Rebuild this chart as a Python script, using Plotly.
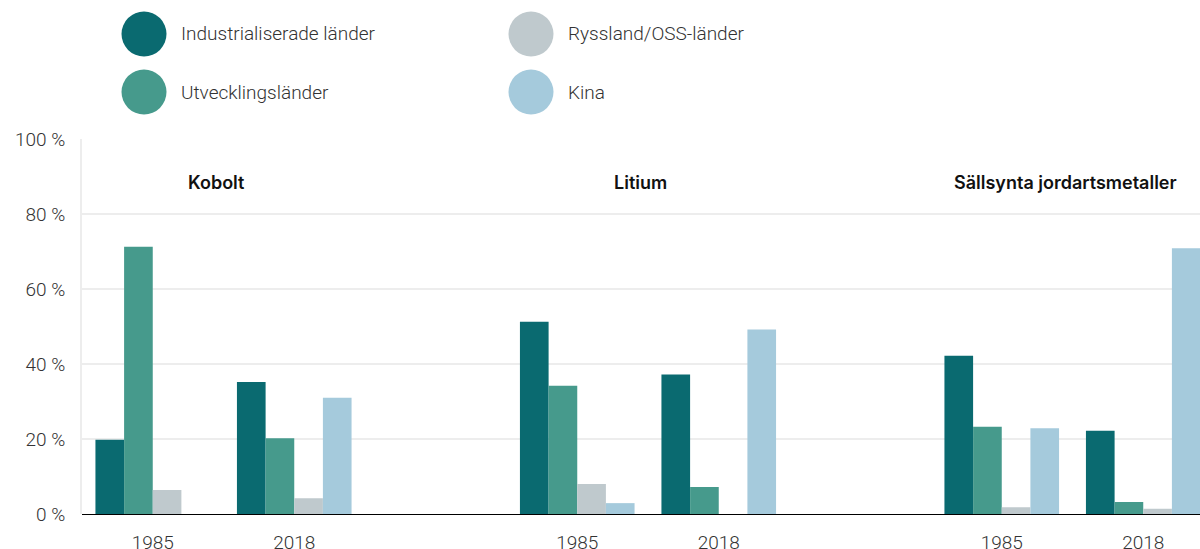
import plotly.graph_objects as go

metals = ["Kobolt", "Litium", "Sällsynta jordartsmetaller"]
years = ["1985", "2018"]
series_names = ["Industrialiserade länder", "Utvecklingsländer", "Ryssland/OSS-länder", "Kina"]
series_colors = ["#0a6a70", "#469a8c", "#bfc9cd", "#a5cadc"]
# values ordered: Kobolt 1985, Kobolt 2018, Litium 1985, Litium 2018, SJM 1985, SJM 2018
industrialiserade = [19.8, 35.2, 51.3, 37.2, 42.2, 22.2]
utveckling = [71.3, 20.2, 34.2, 7.2, 23.3, 3.2]
ryssland = [6.4, 4.2, 8.0, 0.0, 1.8, 1.4]
kina = [0.0, 31.0, 2.9, 49.2, 22.9, 70.9]
series_values = [industrialiserade, utveckling, ryssland, kina]
y_ticks = [0, 20, 40, 60, 80, 100]
y_tick_labels = [f"{v} %" for v in y_ticks]

W, H = 1200, 549
ML, MR, MT, MB = 82, 0, 139, 35
PW, PH = W - ML - MR, H - MT - MB

x_pos = [m * 3 + y for m in range(len(metals)) for y in range(len(years))]
x_text = [years[y] for m in range(len(metals)) for y in range(len(years))]

fig = go.Figure()
for name, color, vals in zip(series_names, series_colors, series_values):
    fig.add_trace(go.Bar(x=x_pos, y=vals, name=name, marker=dict(color=color, line=dict(width=0)),
                         showlegend=False, hoverinfo="skip"))

def px_x(p):
    return (p - ML) / PW

def px_y(p):
    return (H - MB - p) / PH

shapes = []
annotations = []
legend_pos = [(144, 34), (144, 92), (531, 34), (531, 92)]
for (cx, cy), name, color in zip(legend_pos, series_names, series_colors):
    r = 22.5
    shapes.append(dict(type="circle", xref="paper", yref="paper",
                       x0=px_x(cx - r), x1=px_x(cx + r), y0=px_y(cy + r), y1=px_y(cy - r),
                       fillcolor=color, line=dict(width=0)))
    annotations.append(dict(xref="paper", yref="paper", x=px_x(cx + 35), y=px_y(cy),
                            xanchor="left", yanchor="middle", showarrow=False, text=name,
                            font=dict(family="Roboto", size=19, color="#333333", weight=300)))

for i, m in enumerate(metals):
    annotations.append(dict(x=i * 3 + 0.45, y=88.5, xref="x", yref="y", text=m, showarrow=False,
                            xanchor="center", yanchor="middle",
                            font=dict(family="Inter", size=18, color="#111111", weight=600)))

tick_font = dict(family="Roboto", size=19, color="#333333", weight=300)

fig.update_layout(
    width=W, height=H,
    margin=dict(l=ML, r=MR, t=MT, b=MB, pad=0, autoexpand=False),
    plot_bgcolor="white", paper_bgcolor="white",
    barmode="group", bargap=0.19, bargroupgap=0,
    shapes=shapes, annotations=annotations,
    xaxis=dict(range=[-0.5, -0.5 + PW / 141.5], tickvals=x_pos, ticktext=x_text,
               showgrid=False, zeroline=False, showline=False, ticks="",
               ticklabelstandoff=15, automargin=False,
               tickfont=tick_font),
    yaxis=dict(range=[0, 100], tickvals=y_ticks, ticktext=y_tick_labels,
               showgrid=True, gridcolor="#ededed", gridwidth=2,
               zeroline=True, zerolinecolor="#000000", zerolinewidth=1,
               showline=True, linecolor="#ededed", linewidth=2,
               ticks="", ticklabelstandoff=11, automargin=False,
               tickfont=tick_font),
)

fig.write_html("out.html", config={"displayModeBar": False},
               post_script="document.body.style.margin='0';document.body.style.overflow='hidden';")
